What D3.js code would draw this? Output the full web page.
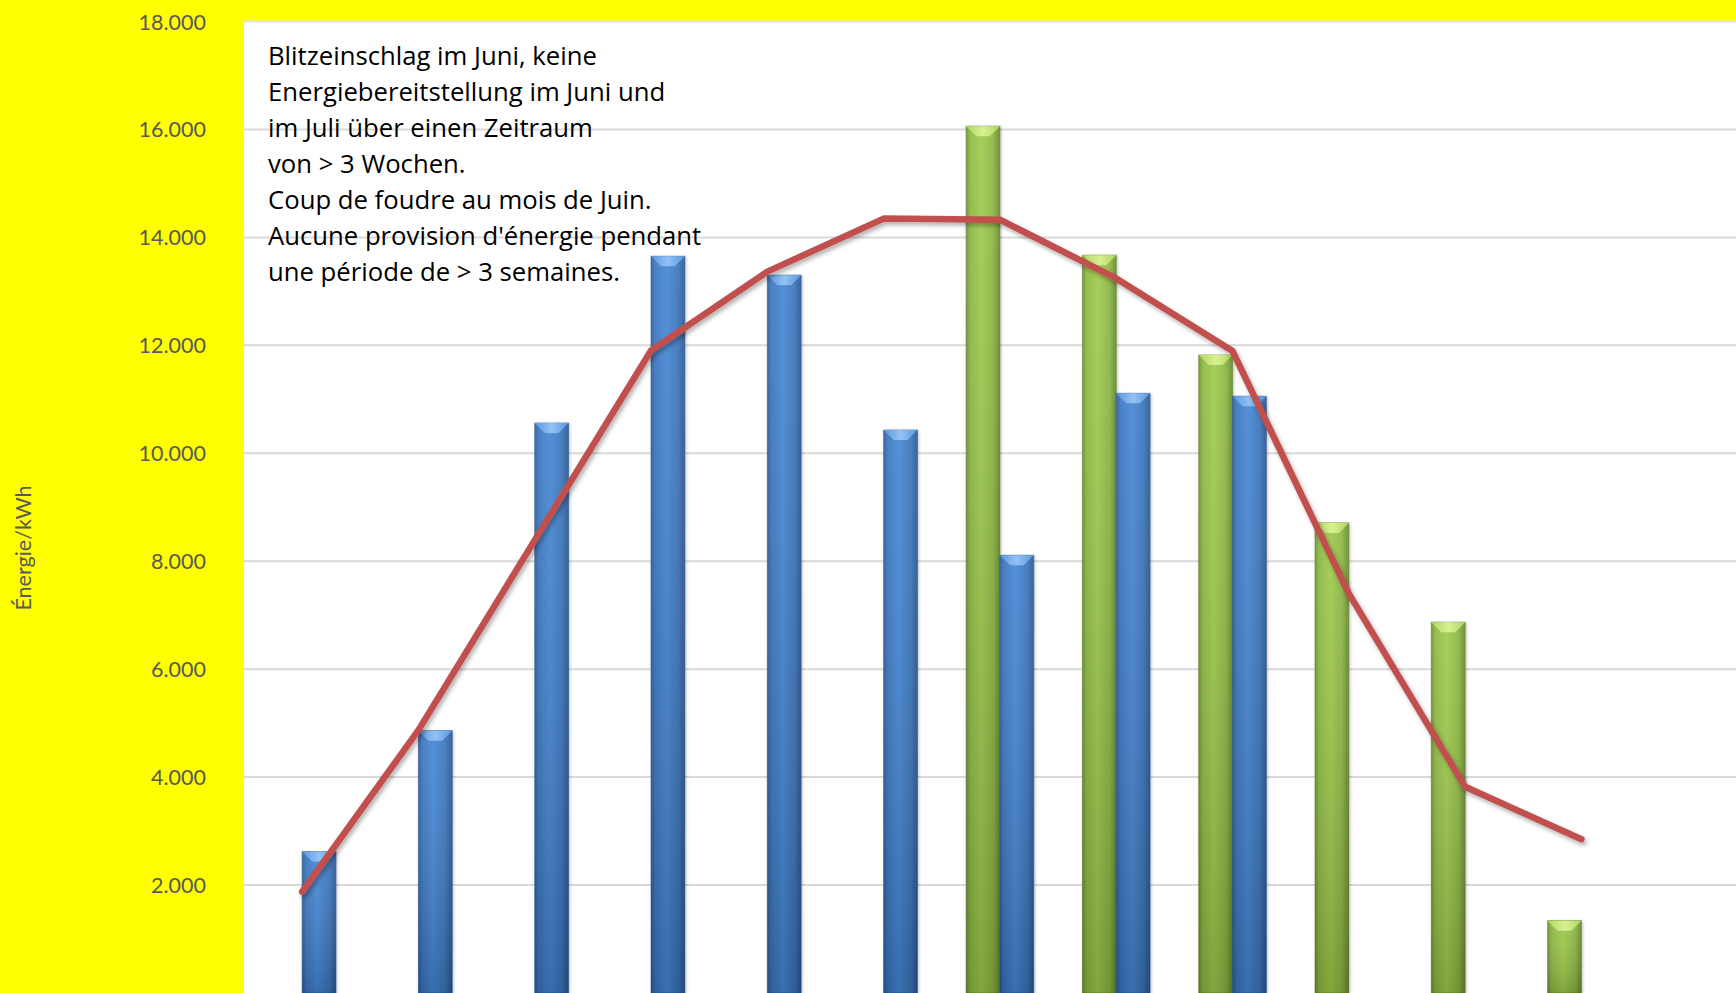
<!DOCTYPE html>
<html>
<head>
<meta charset="utf-8">
<script src="https://cdn.jsdelivr.net/npm/d3@7"></script>
<style>
  html, body { margin: 0; padding: 0; background: #ffff00; }
  svg { display: block; }
</style>
</head>
<body>
<svg id="chart" width="1736" height="993"></svg>
<script>
// ---- Data ----
const months = ["Jan", "Feb", "Mär", "Apr", "Mai", "Jun", "Jul", "Aug", "Sep", "Okt", "Nov", "Dez"];
const seriesNames = ["green", "blue"];
const blueValues  = [2620, 4860, 10560, 13650, 13300, 10430, 8110, 11110, 11056, null, null, null];
const greenValues = [null, null, null, null, null, null, 16060, 13670, 11820, 8710, 6870, 1340];
const lineValues  = [1876, 4870, 8390, 11905, 13365, 14348, 14328, 13240, 11894, 7400, 3820, 2850];
const yTicks = [2000, 4000, 6000, 8000, 10000, 12000, 14000, 16000, 18000];
const noteLines = [
  "Blitzeinschlag im Juni, keine",
  "Energiebereitstellung im Juni und",
  "im Juli über einen Zeitraum",
  "von > 3 Wochen.",
  "Coup de foudre au mois de Juin.",
  "Aucune provision d'énergie pendant",
  "une période de > 3 semaines."
];
const yTitle = "Énergie/kWh";

// ---- Layout ----
const W = 1736, H = 993;
const plotLeft = 244, plotTop = 21.5, plotRight = W, plotBottom = H;
const bandW = 116.3;
const barW = 33.8;

const svg = d3.select("#chart");
const locale = d3.formatLocale({ decimal: ",", thousands: ".", grouping: [3], currency: ["", "€"] });
const fmt = locale.format(",d");

const y = d3.scaleLinear().domain([0, 18000]).range([plotBottom, plotTop]);
const x = d3.scaleBand().domain(months).range([plotLeft, plotLeft + bandW * months.length]).padding(0);
const x1 = d3.scaleBand().domain(seriesNames)
  .range([bandW / 2 - barW, bandW / 2 + barW]).padding(0);

// ---- Defs ----
const defs = svg.append("defs");
function hGrad(id, stops) {
  const g = defs.append("linearGradient").attr("id", id).attr("x1", 0).attr("x2", 1).attr("y1", 0).attr("y2", 0);
  stops.forEach(s => g.append("stop").attr("offset", s[0]).attr("stop-color", s[1]));
}
hGrad("blueH", [[0, "#2c5c9a"], [0.12, "#3a75bf"], [0.45, "#4587d4"], [0.8, "#3a74bb"], [1, "#2a5691"]]);
hGrad("greenH", [[0, "#6c912e"], [0.12, "#8db843"], [0.45, "#9fcb4b"], [0.8, "#8cb543"], [1, "#66892a"]]);
hGrad("blueTop", [[0, "#5a97e0"], [0.5, "#93c2f4"], [1, "#5a97e0"]]);
hGrad("greenTop", [[0, "#b0d861"], [0.5, "#d8f092"], [1, "#b0d861"]]);
const vg = defs.append("linearGradient").attr("id", "vShade").attr("x1", 0).attr("x2", 0).attr("y1", 0).attr("y2", 1);
vg.append("stop").attr("offset", 0).attr("stop-color", "#ffffff").attr("stop-opacity", 0.08);
vg.append("stop").attr("offset", 1).attr("stop-color", "#000000").attr("stop-opacity", 0.18);

const sh = defs.append("filter").attr("id", "lineShadow").attr("x", "-5%").attr("y", "-5%").attr("width", "110%").attr("height", "110%");
sh.append("feDropShadow").attr("dx", 2).attr("dy", 3).attr("stdDeviation", 2).attr("flood-color", "#000").attr("flood-opacity", 0.3);
const bsh = defs.append("filter").attr("id", "barShadow").attr("x", "-20%").attr("y", "-5%").attr("width", "140%").attr("height", "110%");
bsh.append("feDropShadow").attr("dx", 1).attr("dy", 1).attr("stdDeviation", 1.5).attr("flood-color", "#000").attr("flood-opacity", 0.25);

// ---- Plot area ----
svg.append("rect").attr("x", 0).attr("y", 0).attr("width", W).attr("height", H).attr("fill", "#ffff00");
svg.append("rect").attr("x", plotLeft).attr("y", plotTop).attr("width", plotRight - plotLeft)
  .attr("height", plotBottom - plotTop).attr("fill", "#ffffff");
svg.append("line").attr("x1", plotLeft).attr("x2", plotRight).attr("y1", plotTop).attr("y2", plotTop)
  .attr("stroke", "#e3e3e3").attr("stroke-width", 2);

// gridlines
svg.append("g").selectAll("line").data(yTicks.filter(v => v < 18000)).join("line")
  .attr("x1", plotLeft).attr("x2", plotRight)
  .attr("y1", d => y(d)).attr("y2", d => y(d))
  .attr("stroke", "#d9d9d9").attr("stroke-width", 2);

// y axis labels
const yAxis = d3.axisLeft(y).tickValues(yTicks).tickFormat(fmt).tickSize(0).tickPadding(0);
const gy = svg.append("g").attr("transform", "translate(206,0)").call(yAxis);
gy.select(".domain").remove();
gy.selectAll("text").attr("font-family", "Lato, 'Open Sans', sans-serif").attr("font-size", 21.5)
  .attr("fill", "#595959").attr("dy", "0.35em");

svg.append("text")
  .attr("transform", `translate(31,${548}) rotate(-90)`)
  .attr("text-anchor", "middle")
  .attr("font-family", "Lato, 'Open Sans', sans-serif").attr("font-size", 21.5)
  .attr("fill", "#595959").text(yTitle);

// ---- Bars ----
const barData = [];
months.forEach((m, i) => {
  if (greenValues[i] != null) barData.push({ m, s: "green", v: greenValues[i] });
  if (blueValues[i] != null) barData.push({ m, s: "blue", v: blueValues[i] });
});
const bars = svg.append("g").selectAll("g").data(barData).join("g")
  .attr("transform", d => `translate(${x(d.m) + x1(d.s)},0)`);
bars.append("rect")
  .attr("x", 0).attr("y", d => y(d.v)).attr("width", x1.bandwidth()).attr("height", d => y(0) - y(d.v))
  .attr("fill", d => d.s === "blue" ? "url(#blueH)" : "url(#greenH)")
  .attr("stroke", d => d.s === "blue" ? "#2a5590" : "#5d7f26").attr("stroke-opacity", 0.6).attr("stroke-width", 1)
  .attr("filter", "url(#barShadow)");
bars.append("rect")
  .attr("x", 0).attr("y", d => y(d.v)).attr("width", x1.bandwidth()).attr("height", d => y(0) - y(d.v))
  .attr("fill", "url(#vShade)");
const bev = 10;
bars.append("polygon")
  .attr("points", d => {
    const t = y(d.v), w = x1.bandwidth();
    return `0,${t} ${w},${t} ${w - bev},${t + bev} ${bev},${t + bev}`;
  })
  .attr("fill", d => d.s === "blue" ? "url(#blueTop)" : "url(#greenTop)");

// ---- Line ----
const line = d3.line()
  .x((d, i) => x(months[i]) + x.bandwidth() / 2)
  .y(d => y(d));
svg.append("path").datum(lineValues)
  .attr("d", line)
  .attr("fill", "none").attr("stroke", "#c0504d").attr("stroke-width", 6.5)
  .attr("stroke-linejoin", "round").attr("stroke-linecap", "round")
  .attr("filter", "url(#lineShadow)");

// ---- Note ----
const note = svg.append("text")
  .attr("font-family", "'Open Sans', Lato, sans-serif").attr("font-size", 25.7).attr("fill", "#000");
note.selectAll("tspan").data(noteLines).join("tspan")
  .attr("x", 268).attr("y", (d, i) => 65 + i * 36).text(d => d);
</script>
</body>
</html>
